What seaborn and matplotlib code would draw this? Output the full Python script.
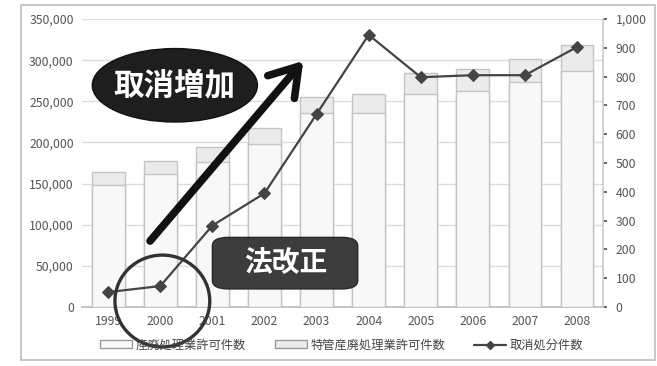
import numpy as np
import pandas as pd
import matplotlib
matplotlib.use("Agg")
import matplotlib.pyplot as plt
import seaborn as sns
from matplotlib.patches import Ellipse, FancyBboxPatch, Rectangle, Patch
from matplotlib.lines import Line2D
from matplotlib.ticker import FuncFormatter, MultipleLocator

years = ["1999", "2000", "2001", "2002", "2003", "2004", "2005", "2006", "2007", "2008"]
sanpai = [148000, 162000, 176000, 198000, 236000, 236000, 259000, 262000, 273000, 287000]
tokkan = [16000, 16000, 18000, 19500, 19000, 23000, 25000, 27000, 28000, 31000]
torikeshi = [52, 73, 283, 395, 670, 945, 798, 805, 805, 903]

legend_labels = ["産廃処理業許可件数", "特管産廃処理業許可件数", "取消処分件数"]
note_increase = "取消増加"
note_law = "法改正"

sns.set_theme(style="white")
plt.rcParams["font.family"] = ["Noto Sans CJK JP", "DejaVu Sans"]

total = [a + b for a, b in zip(sanpai, tokkan)]
df = pd.DataFrame({"year": years, "sanpai": sanpai, "total": total, "torikeshi": torikeshi})

fig = plt.figure(figsize=(6.57, 3.66), dpi=100)
ax = fig.add_axes([0.125, 0.161, 0.793, 0.787])

edge = "#c4c4c4"
sns.barplot(data=df, x="year", y="total", color="#ebebeb", edgecolor=edge,
            linewidth=1.0, width=0.63, saturation=1, ax=ax, zorder=2)
sns.barplot(data=df, x="year", y="sanpai", color="#f8f8f8", edgecolor=edge,
            linewidth=1.0, width=0.63, saturation=1, ax=ax, zorder=3)

ax.set_ylim(0, 350000)
ax.set_xlim(-0.5, 9.5)
ax.yaxis.set_major_locator(MultipleLocator(50000))
ax.yaxis.set_major_formatter(FuncFormatter(lambda v, p: f"{int(v):,}"))
ax.grid(axis="y", color="#dcdcdc", linewidth=1.0, zorder=0)
ax.set_axisbelow(True)
ax.set_xlabel("")
ax.set_ylabel("")
for s in ["top", "left", "right"]:
    ax.spines[s].set_visible(False)
ax.spines["bottom"].set_color("#bdbdbd")
ax.tick_params(axis="both", labelsize=8.8, colors="#555555", length=0, pad=6)

ax2 = ax.twinx()
sns.lineplot(x=np.arange(len(years)), y=torikeshi, ax=ax2, color="#444444",
             marker="D", markersize=6.5, markeredgecolor="#444444", linewidth=1.6, zorder=5)
ax2.set_ylim(0, 1000)
ax2.yaxis.set_major_locator(MultipleLocator(100))
ax2.yaxis.set_major_formatter(FuncFormatter(lambda v, p: f"{int(v):,}"))
ax2.set_ylabel("")
for s in ["top", "left", "bottom"]:
    ax2.spines[s].set_visible(False)
ax2.spines["right"].set_color("#cfcfcf")
ax2.tick_params(axis="y", labelsize=8.8, colors="#555555", length=3, pad=6)
ax2.set_xlim(-0.5, 9.5)

# annotations (axes-fraction coordinates)
tr = ax2.transAxes
ax2.annotate("", xy=(0.428, 0.862), xytext=(0.127, 0.222), xycoords=tr, textcoords=tr,
             arrowprops=dict(arrowstyle="->,head_length=0.7,head_width=0.45",
                             lw=5.5, color="#111111", mutation_scale=28),
             zorder=8, annotation_clip=False)

ell = Ellipse((0.178, 0.77), 0.317, 0.255, transform=tr, facecolor="#1e1e1e",
              edgecolor="#111111", zorder=9, clip_on=False)
ax2.add_patch(ell)
ax2.text(0.178, 0.77, note_increase, transform=tr, ha="center", va="center",
         fontsize=22, fontweight="bold", color="white", zorder=10)

box = FancyBboxPatch((0.262, 0.075), 0.255, 0.155, transform=tr,
                     boxstyle="round,pad=0.012,rounding_size=0.03",
                     facecolor="#3c3c3c", edgecolor="#2a2a2a", zorder=9, clip_on=False)
ax2.add_patch(box)
ax2.text(0.39, 0.152, note_law, transform=tr, ha="center", va="center",
         fontsize=20, fontweight="bold", color="white", zorder=10)

circ = Ellipse((0.154, 0.021), 0.182, 0.319, transform=tr, facecolor="none",
               edgecolor="#333333", linewidth=2.4, zorder=9, clip_on=False)
ax2.add_patch(circ)

# outer frame
fig.patches.append(Rectangle((0.032, 0.016), 0.965, 0.970, transform=fig.transFigure,
                             facecolor="none", edgecolor="#bdbdbd", linewidth=1.2))

handles = [Patch(facecolor="#f8f8f8", edgecolor="#9a9a9a", linewidth=1.0),
           Patch(facecolor="#ebebeb", edgecolor="#9a9a9a", linewidth=1.0),
           Line2D([0], [0], color="#444444", lw=1.6, marker="D", markersize=4)]
fig.legend(handles, legend_labels, loc="center", bbox_to_anchor=(0.52, 0.057), ncol=3,
           frameon=False, fontsize=8.8, handlelength=2.6, handleheight=0.6,
           columnspacing=2.4, handletextpad=0.3, labelcolor="#444444")

fig.savefig("out.png", dpi=100)
